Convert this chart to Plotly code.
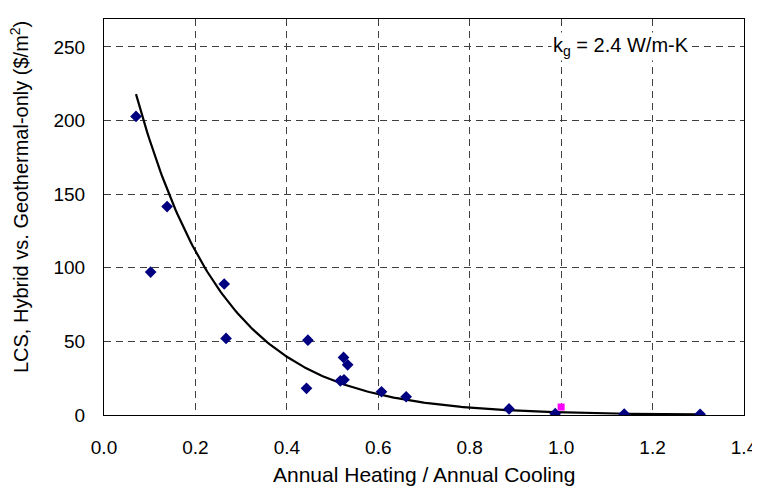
import numpy as np
import plotly.graph_objects as go

# Data
ratio_x = [0.070, 0.102, 0.138, 0.263, 0.267, 0.443, 0.446, 0.517, 0.525, 0.524,
           0.533, 0.607, 0.661, 0.886, 0.987, 1.138, 1.304]
lcs_y = [202.8, 97.1, 141.6, 89.0, 52.0, 18.1, 50.8, 23.2, 23.9, 39.1,
         34.1, 15.8, 12.4, 4.1, 0.9, 0.6, 0.5]
ref_x = [1.0]
ref_y = [5.4]

# Exponential trendline coefficients (y = a * exp(-b x))
trend_a = 313.0
trend_b = 5.17
trend_x0, trend_x1 = 0.07, 1.30

x_ticks = [0.0, 0.2, 0.4, 0.6, 0.8, 1.0, 1.2, 1.4]
y_ticks = [0, 50, 100, 150, 200, 250]

tx = np.linspace(trend_x0, trend_x1, 300)
ty = trend_a * np.exp(-trend_b * tx)

FONT = "Liberation Sans, Arial, sans-serif"

fig = go.Figure()
fig.add_trace(go.Scatter(x=tx, y=ty, mode="lines",
                         line=dict(color="black", width=2.2),
                         hoverinfo="skip", showlegend=False))
fig.add_trace(go.Scatter(x=ratio_x, y=lcs_y, mode="markers",
                         marker=dict(symbol="diamond", size=9, color="#000080"),
                         showlegend=False))
fig.add_trace(go.Scatter(x=ref_x, y=ref_y, mode="markers",
                         marker=dict(symbol="square", size=7, color="#FF00FF"),
                         showlegend=False))

grid = dict(showgrid=True, gridcolor="#404040", gridwidth=1, griddash="7px,5px",
            zeroline=False, showline=True, linecolor="black", linewidth=1,
            mirror=True, ticks="", tickfont=dict(family=FONT, size=19, color="black"))

fig.update_xaxes(range=[0, 1.4], tickvals=x_ticks,
                 ticktext=[f"{v:.1f}" for v in x_ticks],
                 ticklabelstandoff=15, **grid)
fig.update_yaxes(range=[0, 269], tickvals=y_ticks,
                 ticktext=[str(v) for v in y_ticks],
                 ticklabelstandoff=14, **grid)

fig.add_annotation(x=0.5, xref="paper", y=-0.15, yref="paper",
                   text="Annual Heating / Annual Cooling", showarrow=False,
                   xanchor="center", yanchor="middle",
                   font=dict(family=FONT, size=21, color="black"))
fig.add_annotation(x=-0.133, xref="paper", y=0.55, yref="paper",
                   text="LCS, Hybrid vs. Geothermal-only ($/m<sup>2</sup>)",
                   textangle=-90, showarrow=False,
                   xanchor="center", yanchor="middle",
                   font=dict(family=FONT, size=20, color="black"))
fig.add_annotation(x=1.13, xref="x", y=250, yref="y",
                   text="k<sub>g</sub> = 2.4 W/m-K", showarrow=False,
                   xanchor="center", yanchor="middle", bgcolor="white",
                   font=dict(family=FONT, size=20, color="black"))

fig.update_layout(width=760, height=489,
                  margin=dict(l=96, r=17, t=10, b=82),
                  paper_bgcolor="white", plot_bgcolor="white",
                  showlegend=False)

fig.write_html("out.html")
